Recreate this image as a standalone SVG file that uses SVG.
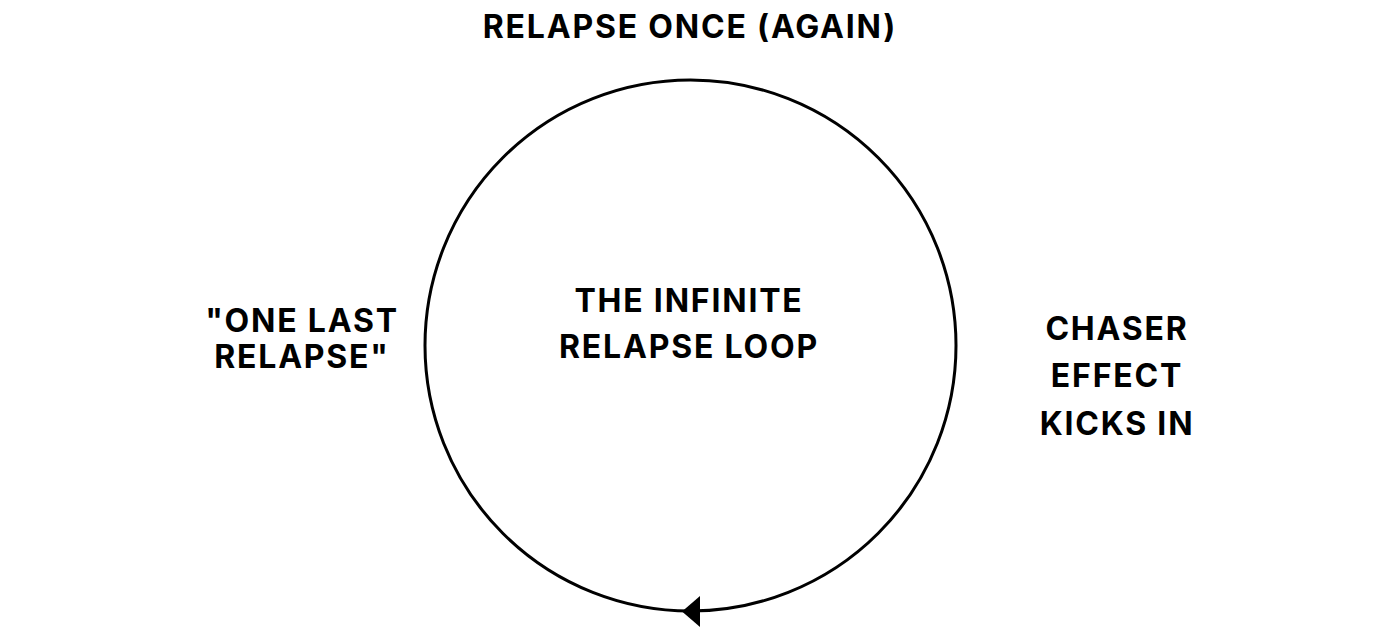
<svg xmlns="http://www.w3.org/2000/svg" width="1400" height="638" viewBox="0 0 1400 638">
<style>
text{font-family:Inter,"Liberation Sans",sans-serif;font-weight:700;font-size:32px;letter-spacing:1.8px;fill:#000;text-anchor:middle}
.loop{fill:none;stroke:#000;stroke-width:3}
</style>
<rect width="1400" height="638" fill="#fff"/>
<g id="connectors">
<circle class="loop" cx="690.5" cy="345.5" r="265.5"/>
<polygon points="682,611.5 700,596 700,627" fill="#000"/>
</g>
<g id="node-top"><text x="690" y="38">RELAPSE ONCE (AGAIN)</text></g>
<g id="node-center"><text x="689" y="312">THE INFINITE</text><text x="689" y="358">RELAPSE LOOP</text></g>
<g id="node-left"><text x="302" y="332">"ONE LAST</text><text x="302" y="368">RELAPSE"</text></g>
<g id="node-right"><text x="1117" y="340">CHASER</text><text x="1117" y="387">EFFECT</text><text x="1117" y="435">KICKS IN</text></g>
</svg>
